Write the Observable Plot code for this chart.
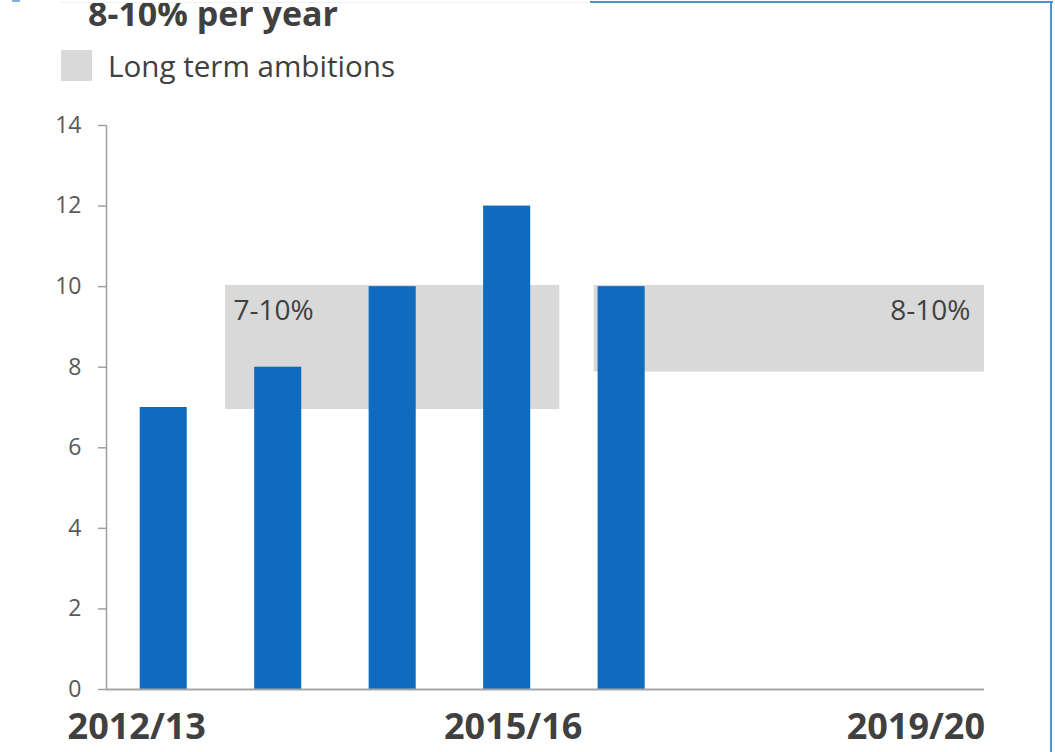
<!DOCTYPE html>
<html>
<head>
<meta charset="utf-8">
<script src="https://cdn.jsdelivr.net/npm/d3@7"></script>
<script src="https://cdn.jsdelivr.net/npm/@observablehq/plot@0.6"></script>
<style>
  html, body { margin: 0; padding: 0; background: #fff; }
  body { width: 1055px; height: 752px; overflow: hidden; position: relative; font-family: "Open Sans", sans-serif; }
  #head { position: relative; width: 1055px; height: 95px; }
  #title { position: absolute; left: 88px; top: 0px; font-size: 34px; font-weight: 700; color: #404040; line-height: 26px; height: 34px; white-space: nowrap; }
  #legend { position: absolute; left: 61px; top: 50px; display: flex; align-items: center; }
  #legend .sw { width: 31px; height: 31px; background: #d9d9d9; }
  #legend .lb { margin-left: 16px; font-size: 29.6px; color: #404040; line-height: 31px; white-space: nowrap; }
  .deco { position: absolute; }
</style>
</head>
<body>
<div id="head">
  <div id="title">8-10% per year</div>
  <div id="legend"><div class="sw"></div><div class="lb">Long term ambitions</div></div>
</div>
<div id="chart"></div>
<div class="deco" style="left:60px;top:2px;width:530px;height:1px;background:#f0f0f0"></div>
<div class="deco" style="left:590px;top:1px;width:463px;height:2px;background:#4e92d6"></div>
<div class="deco" style="left:1050px;top:1px;width:2px;height:751px;background:#4e92d6"></div>
<div class="deco" style="left:12px;top:0px;width:8px;height:2px;background:#7fb2e5"></div>
<script>
// Data
const categories = ["2012/13", "2013/14", "2014/15", "2015/16", "2016/17", "2017/18", "2018/19", "2019/20"];
const barYears = ["2012/13", "2013/14", "2014/15", "2015/16", "2016/17"];
const barValues = [7, 8, 10, 12, 10];
const ambitionLabels = ["7-10%", "8-10%"];
const ambitionLow = [6.95, 7.88];
const ambitionHigh = [10.03, 10.03];
const ambitionStart = [0.54, 3.76];   // x extent in category-index units
const ambitionEnd = [3.46, 7.17];
const xTickLabels = ["2012/13", "2015/16", "2019/20"];
const yTicks = [0, 2, 4, 6, 8, 10, 12, 14];

const idx = c => categories.indexOf(c);
const bars = barYears.map((c, i) => ({cat: c, i: idx(c), value: barValues[i]}));
const bands = ambitionLabels.map((l, i) => ({label: l, x1: ambitionStart[i], x2: ambitionEnd[i], lo: ambitionLow[i], hi: ambitionHigh[i]}));

const labelStyle = {
  "2012/13": {dx: -27, anchor: "middle"},
  "2015/16": {dx: 6, anchor: "middle"},
  "2019/20": {dx: 20, anchor: "end"}
};

const chart = Plot.plot({
  width: 1055,
  height: 657,
  marginLeft: 106,
  marginRight: 71,
  marginTop: 30,
  marginBottom: 63,
  style: {fontFamily: "Open Sans, sans-serif", background: "transparent", overflow: "visible"},
  x: {type: "linear", domain: [-0.5, 7.17], axis: null},
  y: {domain: [0, 14], axis: null},
  marks: [
    Plot.rect(bands, {x1: "x1", x2: "x2", y1: "lo", y2: "hi", fill: "#d9d9d9"}),
    Plot.text(bands.slice(0, 1), {x: "x1", y: "hi", text: "label", textAnchor: "start", lineAnchor: "top", dx: 8, dy: 15, fontSize: 28, fill: "#404040"}),
    Plot.text(bands.slice(1, 2), {x: "x2", y: "hi", text: "label", textAnchor: "end", lineAnchor: "top", dx: -14, dy: 15, fontSize: 28, fill: "#404040"}),
    Plot.rectY(bars, {x1: d => d.i - 0.5, x2: d => d.i + 0.5, y1: 0, y2: "value", fill: "#0e6bbf", insetLeft: 33.7, insetRight: 33.7}),
    Plot.axisY({ticks: yTicks, tickSize: 8, text: null, stroke: "#a0a0a0", strokeWidth: 1.5}),
    Plot.axisY({ticks: yTicks, tickSize: 0, tickPadding: 25, fontSize: 23, fill: "#595959", tickFormat: d => String(d)}),
    Plot.ruleX([-0.5], {y1: 0, y2: 14, stroke: "#a0a0a0", strokeWidth: 1.5}),
    Plot.ruleY([0], {x1: -0.5, x2: 7.17, stroke: "#a6a6a6", strokeWidth: 2}),
    ...xTickLabels.map(c => Plot.text([c], {x: idx(c), y: 0, text: d => d, lineAnchor: "top", dy: 24, dx: labelStyle[c].dx, textAnchor: labelStyle[c].anchor, fontSize: 36, fontWeight: 700, fill: "#404040"}))
  ]
});
document.getElementById("chart").appendChild(chart);
</script>
</body>
</html>
